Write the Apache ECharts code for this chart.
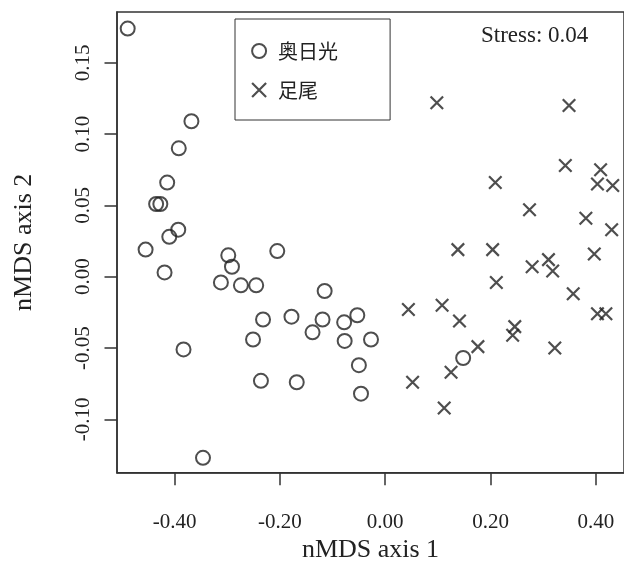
<!DOCTYPE html>
<html>
<head>
<meta charset="utf-8">
<script src="https://cdn.jsdelivr.net/npm/echarts@6/dist/echarts.min.js"></script>
<style>html,body{margin:0;padding:0;background:#fff}#c{width:624px;height:572px}</style>
</head>
<body>
<div id="c"></div>
<script>
const seriesNames = ['奥日光', '足尾'];
const xTicks = [-0.40, -0.20, 0.00, 0.20, 0.40];
const yTicks = [-0.10, -0.05, 0.00, 0.05, 0.10, 0.15];
const okunikkoX = [-0.489,-0.368,-0.392,-0.414,-0.435,-0.427,-0.393,-0.410,-0.455,-0.419,-0.298,-0.291,-0.312,-0.274,-0.245,-0.205,-0.232,-0.178,-0.251,-0.138,-0.383,-0.236,-0.168,-0.346,-0.115,-0.119,-0.078,-0.053,-0.077,-0.027,-0.050,-0.046,0.148];
const okunikkoY = [0.174,0.109,0.090,0.066,0.051,0.051,0.033,0.028,0.019,0.003,0.015,0.007,-0.004,-0.006,-0.006,0.018,-0.030,-0.028,-0.044,-0.039,-0.051,-0.073,-0.074,-0.127,-0.010,-0.030,-0.032,-0.027,-0.045,-0.044,-0.062,-0.082,-0.057];
const ashioX = [0.098,0.349,0.342,0.409,0.403,0.432,0.209,0.274,0.381,0.430,0.138,0.204,0.279,0.310,0.318,0.397,0.211,0.357,0.044,0.108,0.141,0.403,0.419,0.246,0.242,0.176,0.322,0.125,0.052,0.112];
const ashioY = [0.122,0.120,0.078,0.075,0.065,0.064,0.066,0.047,0.041,0.033,0.019,0.019,0.007,0.012,0.004,0.016,-0.004,-0.012,-0.023,-0.020,-0.031,-0.026,-0.026,-0.035,-0.041,-0.049,-0.050,-0.067,-0.074,-0.092];
const stressText = 'Stress: 0.04';
const xName = 'nMDS axis 1';
const yName = 'nMDS axis 2';

const ink = '#222';
const serif = 'Liberation Serif';
const crossPath = 'path://M0,0L10,10M10,0L0,10';
const zip = (a, b) => a.map((v, i) => [v, b[i]]);

const chart = echarts.init(document.getElementById('c'), null, {renderer: 'canvas'});
chart.setOption({
  animation: false,
  grid: {left: 117, right: -2, top: 12, bottom: 99.3, show: true, borderColor: '#333', borderWidth: 1.5, containLabel: false},
  xAxis: {
    type: 'value', min: -0.5093, max: 0.4534,
    name: xName, nameLocation: 'middle', nameGap: 63,
    nameTextStyle: {fontFamily: serif, fontSize: 26, color: ink},
    axisLine: {show: true, onZero: false, lineStyle: {color: '#333', width: 1.5}},
    axisTick: {show: true, length: 12.5, lineStyle: {color: '#333', width: 1.5}, customValues: xTicks},
    axisLabel: {show: true, margin: 39, fontFamily: serif, fontSize: 21, color: ink, customValues: xTicks,
      formatter: v => v.toFixed(2)},
    splitLine: {show: false}
  },
  yAxis: {
    type: 'value', min: -0.1374, max: 0.1856,
    name: yName, nameLocation: 'middle', nameGap: 80, nameRotate: 90,
    nameTextStyle: {fontFamily: serif, fontSize: 26, color: ink},
    axisLine: {show: true, onZero: false, lineStyle: {color: '#333', width: 1.5}},
    axisTick: {show: true, length: 12.5, lineStyle: {color: '#333', width: 1.5}, customValues: yTicks},
    axisLabel: {show: true, rotate: 90, margin: 23, fontFamily: serif, fontSize: 21, color: ink, customValues: yTicks,
      formatter: v => v.toFixed(2)},
    splitLine: {show: false}
  },
  legend: {
    orient: 'vertical', left: 235, top: 19, selectedMode: false,
    borderColor: '#333', borderWidth: 1, padding: [22, 52, 20, 16],
    itemGap: 19, itemWidth: 14, itemHeight: 14,
    textStyle: {fontFamily: 'Noto Sans CJK JP', fontSize: 20, lineHeight: 20, color: ink, padding: [0, 0, 0, 7]},
    data: [
      {name: seriesNames[0], icon: 'circle', itemStyle: {color: 'transparent', borderColor: ink, borderWidth: 2}},
      {name: seriesNames[1], icon: crossPath, itemStyle: {color: 'transparent', borderColor: ink, borderWidth: 2.2}}
    ]
  },
  graphic: [{
    type: 'text', x: 481, y: 36,
    style: {text: stressText, fill: ink, font: '23px "Liberation Serif"', textAlign: 'left', textVerticalAlign: 'middle'}
  }],
  series: [
    {name: seriesNames[0], type: 'scatter', data: zip(okunikkoX, okunikkoY),
      symbol: 'circle', symbolSize: 14,
      itemStyle: {color: 'transparent', borderColor: ink, borderWidth: 2},
      emphasis: {disabled: true}},
    {name: seriesNames[1], type: 'scatter', data: zip(ashioX, ashioY),
      symbol: crossPath, symbolSize: 12.5,
      itemStyle: {color: 'transparent', borderColor: ink, borderWidth: 2.2},
      emphasis: {disabled: true}}
  ]
});
</script>
</body>
</html>
